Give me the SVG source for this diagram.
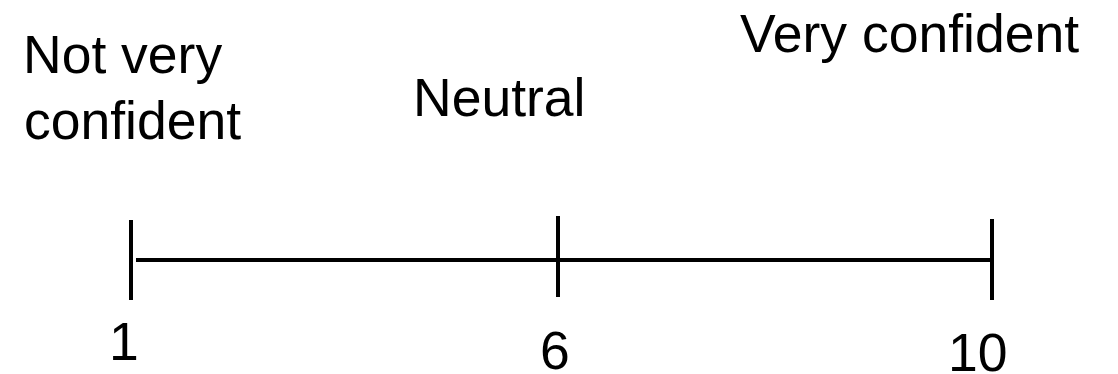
<svg xmlns="http://www.w3.org/2000/svg" width="1118" height="374" viewBox="0 0 1118 374">
<style>
.t{font-family:"Liberation Sans",Arial,sans-serif;font-size:53.5px;fill:#000}
.l{stroke:#000;stroke-width:4;fill:none}
</style>
<rect width="1118" height="374" fill="#fff"/>
<g id="connectors">
<line class="l" x1="136" y1="260" x2="992" y2="260"/>
</g>
<g id="tick1"><line class="l" x1="131" y1="220" x2="131" y2="300"/><text class="t" x="109" y="360">1</text></g>
<g id="tick6"><line class="l" x1="558" y1="216" x2="558" y2="297"/><text class="t" x="540" y="369">6</text></g>
<g id="tick10"><line class="l" x1="992" y1="219" x2="992" y2="300"/><text class="t" x="948" y="371">10</text></g>
<g id="label-not"><text class="t" x="23" y="73">Not very</text><text class="t" x="24" y="139">confident</text></g>
<g id="label-neutral"><text class="t" x="413" y="116">Neutral</text></g>
<g id="label-very"><text class="t" x="740" y="52">Very confident</text></g>
</svg>
